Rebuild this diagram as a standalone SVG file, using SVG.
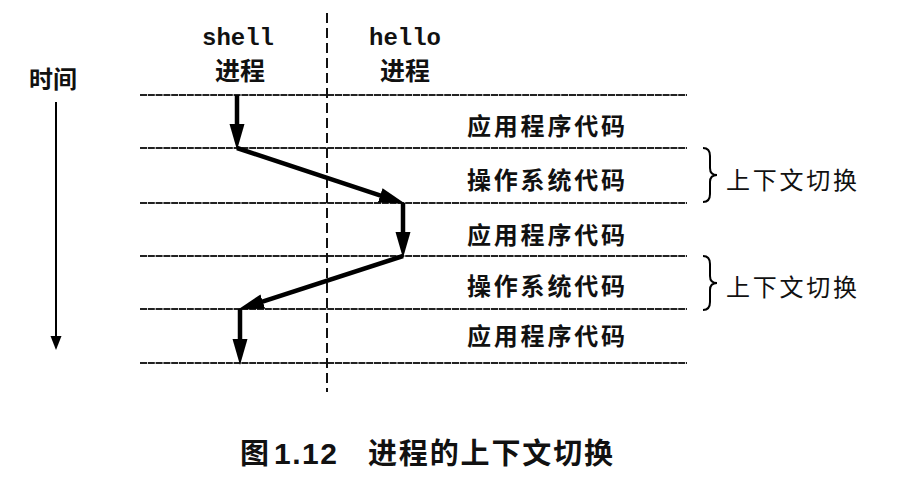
<svg xmlns="http://www.w3.org/2000/svg" width="902" height="479" viewBox="0 0 902 479">
<style>
.cjk{font-family:"Noto Sans CJK SC","Noto Sans",sans-serif;fill:#111}
.b{font-weight:bold}
.mono{font-family:"Liberation Mono",monospace;font-weight:bold;fill:#111}
.row{stroke:#222;stroke-width:2;stroke-dasharray:7 0.8}
.flow{stroke:#000;stroke-width:4.5;fill:none}
.brace{stroke:#000;stroke-width:2;fill:none}
</style>
<defs>
<marker id="big" markerUnits="userSpaceOnUse" markerWidth="26" markerHeight="18" viewBox="0 0 26 18" refX="14" refY="9" orient="auto">
<path d="M0,1.5 L26,9 L0,16.5 z" fill="#000"/>
</marker>
<marker id="small" markerUnits="userSpaceOnUse" markerWidth="14" markerHeight="12" viewBox="0 0 14 12" refX="2" refY="6" orient="auto">
<path d="M0,0.5 L14,6 L0,11.5 z" fill="#000"/>
</marker>
</defs>
<rect width="902" height="479" fill="#fff"/>

<g id="time-axis">
<text class="cjk b" x="53" y="88" font-size="24" text-anchor="middle">时间</text>
<line x1="56" y1="102" x2="56" y2="338" stroke="#000" stroke-width="2" marker-end="url(#small)"/>
</g>

<g id="shell-label">
<text class="mono" x="238" y="45" font-size="24" text-anchor="middle">shell</text>
<text class="cjk b" x="240" y="80" font-size="25" text-anchor="middle">进程</text>
</g>
<g id="hello-label">
<text class="mono" x="405" y="45" font-size="24" text-anchor="middle">hello</text>
<text class="cjk b" x="405" y="80" font-size="25" text-anchor="middle">进程</text>
</g>

<g id="rows">
<line class="row" x1="140" y1="95" x2="687" y2="95"/>
<line class="row" x1="140" y1="148" x2="687" y2="148"/>
<line class="row" x1="140" y1="203" x2="687" y2="203"/>
<line class="row" x1="140" y1="256" x2="687" y2="256"/>
<line class="row" x1="140" y1="309" x2="687" y2="309"/>
<line class="row" x1="140" y1="363" x2="687" y2="363"/>
</g>

<g id="divider">
<line x1="327" y1="13" x2="327" y2="392" stroke="#111" stroke-width="2" stroke-dasharray="10 5"/>
</g>

<g id="seg-app1"><text class="cjk b" x="467" y="135" font-size="24" textLength="158">应用程序代码</text></g>
<g id="seg-os1"><text class="cjk b" x="467" y="189" font-size="24" textLength="158">操作系统代码</text></g>
<g id="seg-app2"><text class="cjk b" x="467" y="244" font-size="24" textLength="158">应用程序代码</text></g>
<g id="seg-os2"><text class="cjk b" x="467" y="295" font-size="24" textLength="158">操作系统代码</text></g>
<g id="seg-app3"><text class="cjk b" x="467" y="345" font-size="24" textLength="158">应用程序代码</text></g>

<g id="switch1">
<path class="brace" d="M703,148 Q710,148 710,156 L710,168 Q710,175 717,175 Q710,175 710,182 L710,194 Q710,202 703,202"/>
<text class="cjk" x="726" y="189" font-size="24" textLength="131">上下文切换</text>
</g>
<g id="switch2">
<path class="brace" d="M703,256 Q710,256 710,264 L710,276 Q710,283 717,283 Q710,283 710,290 L710,302 Q710,310 703,310"/>
<text class="cjk" x="726" y="296" font-size="24" textLength="131">上下文切换</text>
</g>

<g id="connectors">
<line class="flow" x1="237" y1="95" x2="237" y2="138" marker-end="url(#big)"/>
<line class="flow" x1="237" y1="148" x2="393.5" y2="199.8" marker-end="url(#big)"/>
<line class="flow" x1="403" y1="203" x2="403" y2="246" marker-end="url(#big)"/>
<line class="flow" x1="403" y1="256" x2="249.5" y2="305.9" marker-end="url(#big)"/>
<line class="flow" x1="240" y1="309" x2="240" y2="353" marker-end="url(#big)"/>
</g>

<g id="caption">
<text class="cjk b" x="240" y="464" font-size="29">图</text>
<text x="274" y="464" font-size="30" font-family="Liberation Sans,sans-serif" font-weight="bold" fill="#111" textLength="63">1.12</text>
<text class="cjk b" x="368" y="464" font-size="29" textLength="245">进程的上下文切换</text>
</g>
</svg>
